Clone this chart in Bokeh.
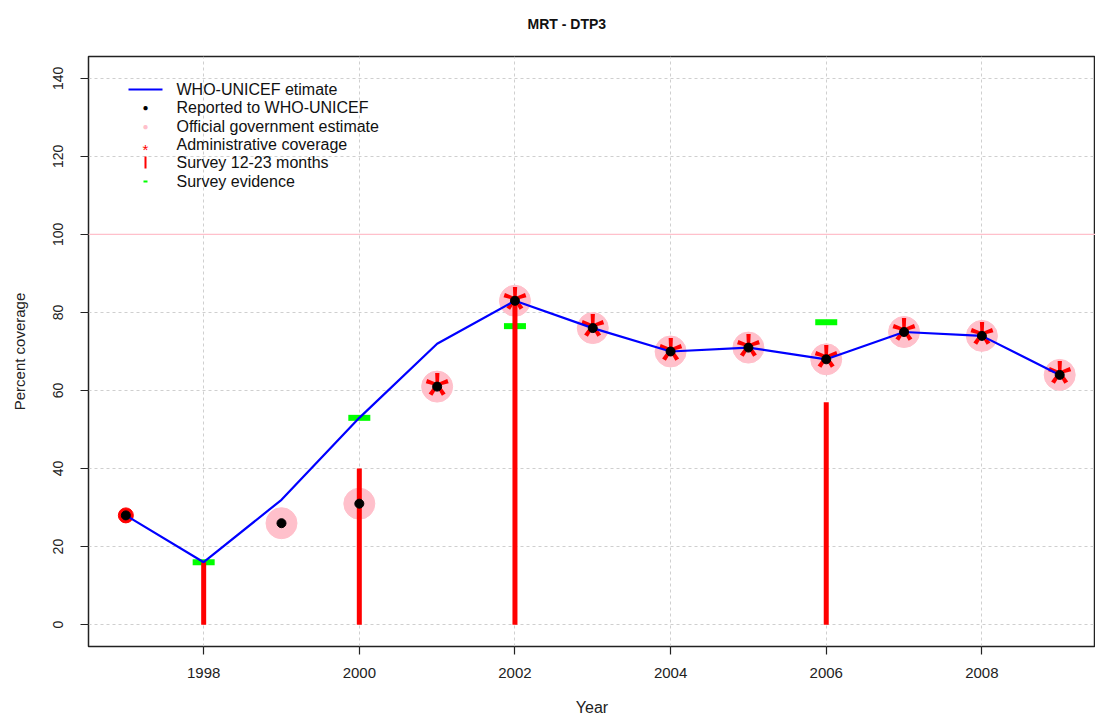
from bokeh.plotting import figure
from bokeh.models import Range1d, FixedTicker, Label, BoxAnnotation, Span, Title
from bokeh.core.properties import value
from bokeh.embed import file_html
from bokeh.resources import INLINE

# ---- data ----
years = [1997, 1998, 1999, 2000, 2001, 2002, 2003, 2004, 2005, 2006, 2007, 2008, 2009]
who_unicef = [28, 16, 32, 53, 72, 83, 76, 70, 71, 68, 75, 74, 64]

reported_years = [1997, 1999, 2000, 2001, 2002, 2003, 2004, 2005, 2006, 2007, 2008, 2009]
reported = [28, 26, 31, 61, 83, 76, 70, 71, 68, 75, 74, 64]

official_years = [1999, 2000, 2001, 2002, 2003, 2004, 2005, 2006, 2007, 2008, 2009]
official = [26, 31, 61, 83, 76, 70, 71, 68, 75, 74, 64]

admin_years = [2001, 2002, 2003, 2004, 2005, 2006, 2007, 2008, 2009]
admin = [61, 83, 76, 70, 71, 68, 75, 74, 64]

first_year_marker_years = [1997]
first_year_marker = [28]

survey_years = [1998, 2000, 2002, 2006]
survey_12_23 = [16, 40, 84, 57]

evidence_years = [1998, 2000, 2002, 2006]
survey_evidence = [16, 53, 76.5, 77.5]

x_ticks = [1998, 2000, 2002, 2004, 2006, 2008]
y_ticks = [0, 20, 40, 60, 80, 100, 120, 140]

title_text = "MRT  -  DTP3"
legend_labels = ["WHO-UNICEF etimate", "Reported to WHO-UNICEF", "Official government estimate",
                 "Administrative coverage", "Survey 12-23 months", "Survey evidence"]

FONT = "Liberation Sans"

p = figure(width=1095, height=719, output_backend="svg", toolbar_location=None,
           x_range=Range1d(1996.52, 2009.46), y_range=Range1d(-5.6, 145.6),
           min_border_left=88, min_border_right=0, min_border_top=56, min_border_bottom=73)
p.background_fill_color = "white"
p.border_fill_color = "white"
p.outline_line_color = "#222222"
p.outline_line_width = 1.5

# grid
for g in (p.xgrid, p.ygrid):
    g.grid_line_color = "#CFCFCF"
    g.grid_line_dash = "3 3"
    g.grid_line_width = 1
p.xgrid.ticker = FixedTicker(ticks=x_ticks)
p.ygrid.ticker = FixedTicker(ticks=y_ticks)

# axes
p.xaxis.ticker = FixedTicker(ticks=x_ticks)
p.yaxis.ticker = FixedTicker(ticks=y_ticks)
for ax in (p.xaxis[0], p.yaxis[0]):
    ax.axis_line_color = None
    ax.major_tick_in = 0
    ax.major_tick_out = 8
    ax.major_tick_line_color = "#222222"
    ax.major_tick_line_width = 1.2
    ax.minor_tick_line_color = None
    ax.major_label_text_font = FONT
    ax.major_label_text_color = "#222222"
    ax.axis_label_text_font = FONT
    ax.axis_label_text_font_style = "normal"
    ax.axis_label_text_color = "#222222"
p.xaxis.major_label_text_font_size = "15px"
p.yaxis.major_label_text_font_size = "14px"
p.xaxis.axis_label_text_font_size = "16px"
p.yaxis.axis_label_text_font_size = "15px"
p.xaxis.axis_label = "Year"
p.yaxis.axis_label = "Percent coverage"
p.yaxis.major_label_orientation = "vertical"
p.xaxis.major_label_standoff = 13
p.yaxis.major_label_standoff = 17
p.xaxis.axis_label_standoff = 18
p.yaxis.axis_label_standoff = 23

# title (a trailing empty line lifts it higher above the frame)
p.add_layout(Title(text=title_text + "\n", align="left", offset=439, vertical_align="top",
                   text_font=FONT, text_font_size="14px", text_font_style="bold",
                   text_color="#111111", standoff=14), "above")

# 100% line
p.add_layout(Span(location=100, dimension="width", line_color="#FFC0CB", line_width=1.2))

# official government estimate (pink circles)
p.scatter(official_years, official, marker="circle", size=31, fill_color="#FFC0CB",
          line_color="#FFC0CB")

# first year marker
p.scatter(first_year_marker_years, first_year_marker, marker="circle", size=15,
          fill_color="#FF0000", line_color="#FF0000")

# administrative coverage (red asterisk)
fs = 64
p.text(admin_years, admin, text=["*"] * len(admin_years), text_color="#FF0000",
       text_font=value(FONT), text_font_size=f"{fs}px", text_align="center",
       text_baseline="alphabetic", y_offset=9)

# survey evidence (green dashes)
p.rect(evidence_years, survey_evidence, width=22, height=6, width_units="screen",
       height_units="screen", fill_color="#00FF00", line_color=None)

# survey 12-23 months (red bars)
p.segment(x0=survey_years, y0=[0] * len(survey_years), x1=survey_years, y1=survey_12_23,
          line_color="#FF0000", line_width=5, line_cap="butt")

# WHO-UNICEF estimate (blue line)
p.line(years, who_unicef, line_color="#0000FF", line_width=2.2)

# reported (black dots)
p.scatter(reported_years, reported, marker="circle", size=9, fill_color="black",
          line_color="black")

# ---- manual legend (screen units relative to frame bottom-left) ----
row_y = [557, 539, 520, 502, 484, 465]
gx = 57  # glyph center
tx = 88  # text start
p.add_layout(BoxAnnotation(left=40, right=74, bottom=row_y[0] - 1, top=row_y[0] + 1,
                           left_units="screen", right_units="screen",
                           bottom_units="screen", top_units="screen",
                           fill_color="#0000FF", fill_alpha=1, line_color=None))
p.add_layout(Label(x=gx, y=row_y[1], x_units="screen", y_units="screen", text="●",
                   text_color="black", text_font_size="10px", text_align="center",
                   text_baseline="middle"))
p.add_layout(Label(x=gx, y=row_y[2], x_units="screen", y_units="screen", text="●",
                   text_color="#FFC0CB", text_font_size="10px", text_align="center",
                   text_baseline="middle"))
p.add_layout(Label(x=gx, y=row_y[3] - 5, x_units="screen", y_units="screen", text="*",
                   text_color="#FF0000", text_font=FONT, text_font_size="15px",
                   text_align="center", text_baseline="alphabetic"))
p.add_layout(BoxAnnotation(left=gx - 1, right=gx + 1, bottom=row_y[4] - 6, top=row_y[4] + 6,
                           left_units="screen", right_units="screen",
                           bottom_units="screen", top_units="screen",
                           fill_color="#FF0000", fill_alpha=1, line_color=None))
p.add_layout(BoxAnnotation(left=gx - 2, right=gx + 2, bottom=row_y[5] - 1, top=row_y[5] + 1,
                           left_units="screen", right_units="screen",
                           bottom_units="screen", top_units="screen",
                           fill_color="#00FF00", fill_alpha=1, line_color=None))
for lab, yy in zip(legend_labels, row_y):
    p.add_layout(Label(x=tx, y=yy, x_units="screen", y_units="screen", text=lab,
                       text_color="#111111", text_font=FONT, text_font_size="16px",
                       text_align="left", text_baseline="middle"))

open("out.html", "w").write(file_html(p, INLINE))
